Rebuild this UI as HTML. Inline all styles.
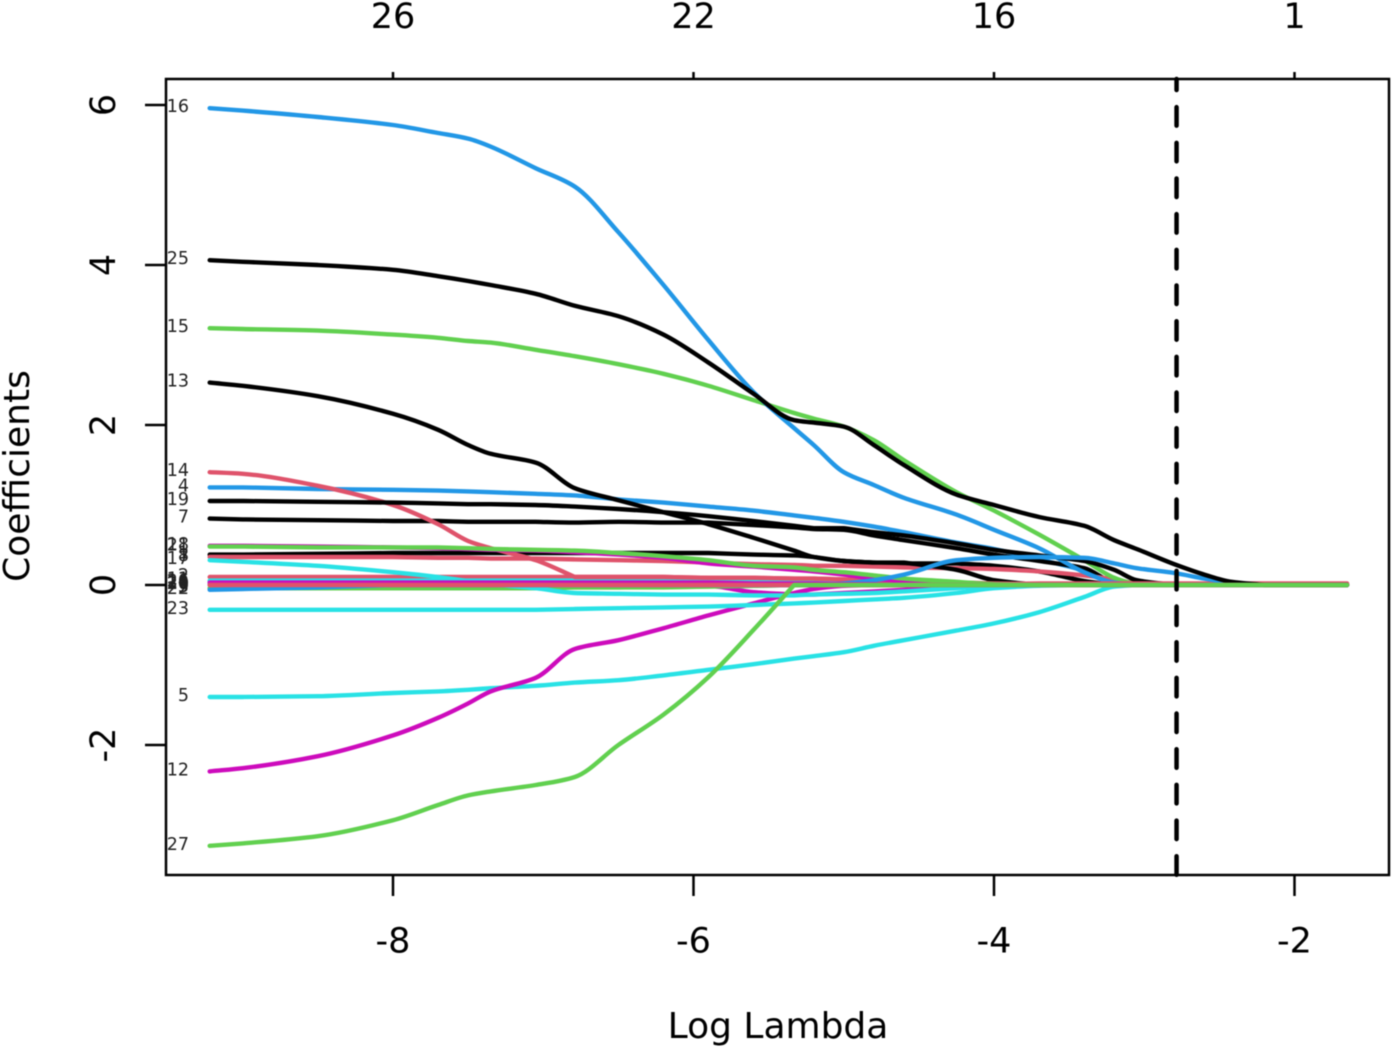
<!DOCTYPE html>
<html lang="en">
<head>
<meta charset="utf-8">
<title>Lasso coefficient paths</title>
<style>
html,body{margin:0;padding:0;background:#fff;}
svg{display:block;font-family:"DejaVu Sans",sans-serif;filter:blur(.45px);}
</style>
</head>
<body>
<svg id="chart" xmlns="http://www.w3.org/2000/svg" width="1395" height="1049" viewBox="0 0 1395 1049"></svg>
<script>
const logLambda = [-9.22,-9.0,-8.5,-8.0,-7.7,-7.5,-7.35,-7.05,-6.79,-6.5,-6.2,-5.9,-5.6,-5.33,-5.2,-5.0,-4.8,-4.6,-4.25,-4.0,-3.7,-3.4,-3.2,-3.05,-2.8,-2.6,-2.42,-2.2,-1.65];
const coef1  = [.38,.38,.39,.40,.40,.40,.40,.40,.40,.40,.40,.40,.38,.37,.35,.30,.28,.27,.27,.24,.17,.05,0,0,0,0,0,0,0];
const coef2  = [.10,.10,.10,.10,.10,.10,.10,.10,.10,.10,.10,.09,.09,.08,.08,.07,.06,.05,.03,.02,.01,0,0,0,0,0,0,0,0];
const coef3  = [-.04,-.04,-.04,-.04,-.04,-.04,-.04,-.04,-.03,-.03,-.03,-.02,-.01,0,0,0,0,0,0,0,0,0,0,0,0,0,0,0,0];
const coef4  = [1.22,1.22,1.20,1.19,1.18,1.17,1.16,1.14,1.12,1.07,1.03,.98,.93,.87,.84,.79,.73,.66,.53,.45,.32,.18,.04,0,0,0,0,0,0];
const coef5  = [-1.40,-1.40,-1.39,-1.35,-1.33,-1.31,-1.29,-1.26,-1.22,-1.19,-1.13,-1.06,-.99,-.92,-.89,-.84,-.76,-.69,-.57,-.48,-.34,-.15,-.02,0,0,0,0,0,0];
const coef6  = [.04,.04,.03,.03,.03,.02,.02,.01,.01,0,0,-.01,-.09,-.12,-.12,-.10,-.08,-.06,-.03,-.01,0,0,0,0,0,0,0,0,0];
const coef7  = [.83,.82,.81,.80,.80,.79,.79,.79,.78,.79,.78,.78,.75,.72,.70,.69,.62,.56,.46,.38,.30,.21,.03,0,0,0,0,0,0];
const coef8  = [.35,.35,.35,.35,.34,.34,.33,.33,.32,.31,.30,.28,.26,.25,.24,.24,.23,.22,.21,.20,.17,.12,.07,.02,0,0,0,0,0];
const coef9  = [-.04,-.04,-.04,-.04,-.04,-.04,-.04,-.04,-.03,-.03,-.02,-.02,-.01,0,0,0,0,0,0,0,0,0,0,0,0,0,0,0,0];
const coef10 = [.01,.01,.01,.01,.01,.01,.01,.01,.01,.01,.01,.01,.01,.01,.01,.01,0,0,0,0,0,0,0,0,0,0,0,0,0];
const coef11 = [.055,.055,.055,.055,.055,.055,.055,.055,.055,.055,.055,.05,.05,.04,.04,.03,.02,.01,.01,0,0,0,0,0,0,0,0,0,0];
const coef12 = [-2.33,-2.29,-2.14,-1.88,-1.66,-1.48,-1.33,-1.16,-.80,-.69,-.54,-.38,-.23,-.10,-.05,-.01,0,0,0,0,0,0,0,0,0,0,0,0,0];
const coef13 = [2.53,2.49,2.36,2.14,1.94,1.75,1.64,1.53,1.21,1.06,.91,.76,.59,.43,.35,.30,.28,.28,.19,.06,0,0,0,0,0,0,0,0,0];
const coef14 = [1.41,1.39,1.24,1.00,.76,.55,.46,.31,.10,.10,.10,.09,.09,.08,.08,.07,.06,.05,.03,.02,.01,0,0,0,0,0,0,0,0];
const coef15 = [3.21,3.20,3.18,3.13,3.09,3.05,3.03,2.94,2.86,2.76,2.64,2.49,2.31,2.15,2.08,1.98,1.81,1.56,1.16,.93,.63,.31,.09,0,0,0,0,0,0];
const coef16 = [5.96,5.93,5.85,5.75,5.65,5.58,5.48,5.21,4.98,4.41,3.75,3.06,2.41,1.96,1.75,1.41,1.25,1.09,.88,.69,.46,.16,.03,0,0,0,0,0,0];
const coef17 = [.31,.29,.24,.16,.10,.05,.01,-.04,-.10,-.11,-.12,-.12,-.13,-.13,-.12,-.11,-.10,-.08,-.04,-.01,0,0,0,0,0,0,0,0,0];
const coef18 = [.49,.49,.48,.47,.46,.45,.44,.43,.41,.38,.34,.27,.23,.19,.17,.13,.08,.05,.02,0,0,0,0,0,0,0,0,0,0];
const coef19 = [1.05,1.05,1.04,1.03,1.02,1.01,1.01,1.00,.98,.95,.91,.86,.80,.74,.71,.71,.66,.62,.52,.44,.37,.30,.19,.06,0,0,0,0,0];
const coef20 = [0,0,0,0,0,0,0,0,0,0,0,0,0,0,0,0,0,0,.01,.01,.02,.02,.02,.02,.02,.02,.02,.02,.02];
const coef21 = [.48,.48,.47,.47,.47,.46,.45,.44,.43,.40,.36,.31,.24,.22,.19,.16,.12,.08,.04,.01,0,0,0,0,0,0,0,0,0];
const coef22 = [-.06,-.05,-.03,0,0,0,0,0,0,0,0,0,0,0,0,.02,.06,.13,.31,.34,.35,.34,.27,.21,.15,.08,.03,0,0];
const coef23 = [-.31,-.31,-.31,-.31,-.31,-.31,-.31,-.31,-.30,-.29,-.28,-.27,-.25,-.23,-.22,-.20,-.18,-.16,-.10,-.04,-.01,0,0,0,0,0,0,0,0];
const coef24 = [.03,.03,.03,.03,.03,.03,.03,.03,.03,.03,.03,.03,.02,.02,.02,.01,.01,0,0,0,0,0,0,0,0,0,0,0,0];
const coef25 = [4.06,4.04,4.00,3.94,3.86,3.80,3.75,3.64,3.49,3.36,3.13,2.78,2.39,2.06,2.03,1.98,1.75,1.50,1.13,1.00,.85,.74,.56,.45,.26,.13,.04,0,0];
const coef26 = [0,0,0,0,0,0,0,0,0,0,0,0,0,0,0,0,0,0,0,0,0,0,0,0,0,0,0,0,0];
const coef27 = [-3.26,-3.23,-3.14,-2.94,-2.75,-2.63,-2.58,-2.50,-2.40,-2.00,-1.62,-1.15,-.56,0,0,0,0,0,0,0,0,0,0,0,0,0,0,0,0];

const seriesIds = [1,2,3,4,5,6,7,8,9,10,11,12,13,14,15,16,17,18,19,20,21,22,23,24,25,26,27];
const seriesValues = [coef1,coef2,coef3,coef4,coef5,coef6,coef7,coef8,coef9,coef10,coef11,coef12,coef13,coef14,coef15,coef16,coef17,coef18,coef19,coef20,coef21,coef22,coef23,coef24,coef25,coef26,coef27];
const palette = ["#000000","#DF536B","#61D04F","#2297E6","#28E2E5","#CD0BBC"];
const xTicks = [-8,-6,-4,-2];
const yTicks = [-2,0,2,4,6];
const topTickLabels = ["26","22","16","1"];
const selectedLogLambda = -2.785;

const svg = document.getElementById('chart');
const NS = 'http://www.w3.org/2000/svg';
const plot = {left:166,right:1389,top:79,bottom:875};
function xScale(v){ return 393 + (v + 8) * 150.25; }
function yScale(v){ return 585 - v * 80; }
function make(tag, attrs, text){
  const el = document.createElementNS(NS, tag);
  for (const k in attrs) el.setAttribute(k, attrs[k]);
  if (text !== undefined) el.textContent = text;
  svg.appendChild(el);
  return el;
}
// smooth path through the values; keeps a sharp kink where a path meets a flat run
function smoothPath(values){
  const xs = logLambda.map(xScale);
  const ys = values.map(yScale);
  const n = xs.length;
  const d = [];
  for (let i = 0; i < n - 1; i++) d.push((ys[i+1] - ys[i]) / (xs[i+1] - xs[i]));
  const m = [];
  for (let i = 0; i < n; i++){
    if (i === 0) m.push(d[0]);
    else if (i === n - 1) m.push(d[n-2]);
    else if (d[i-1] * d[i] <= 0) m.push(0);
    else m.push(2 * d[i-1] * d[i] / (d[i-1] + d[i]));
  }
  let out = 'M' + xs[0].toFixed(1) + ' ' + ys[0].toFixed(1);
  for (let i = 0; i < n - 1; i++){
    const h = xs[i+1] - xs[i];
    let m0 = m[i], m1 = m[i+1];
    if (d[i] === 0){ m0 = 0; m1 = 0; }
    else {
      if (i < n - 2 && d[i+1] === 0) m1 = d[i];
      if (i > 0 && d[i-1] === 0) m0 = d[i];
    }
    out += 'C' + (xs[i] + h/3).toFixed(1) + ' ' + (ys[i] + m0*h/3).toFixed(1) + ' ' +
           (xs[i+1] - h/3).toFixed(1) + ' ' + (ys[i+1] - m1*h/3).toFixed(1) + ' ' +
           xs[i+1].toFixed(1) + ' ' + ys[i+1].toFixed(1);
  }
  return out;
}

// series lines
seriesIds.forEach(function(id, i){
  const line = make('path', {d:smoothPath(seriesValues[i]), fill:'none', stroke:palette[(id - 1) % 6], 'stroke-width':4.4, 'stroke-linejoin':'round', 'stroke-linecap':'round'});
  
  
});

// series id labels at left end
seriesIds.forEach(function(id, i){
  const label = make('text', {x:189, y:yScale(seriesValues[i][0]) + 4, 'text-anchor':'end', 'font-size':17.5, fill:'#222'}, String(id));
  
  
});

// selected lambda dashed line
const cvLine = make('line', {x1:xScale(selectedLogLambda), x2:xScale(selectedLogLambda), y1:plot.top, y2:plot.bottom, stroke:'#000', 'stroke-width':4.5, 'stroke-dasharray':'18.5 17.17', 'stroke-dashoffset':7.5, 'stroke-linecap':'round'});



// plot frame
const frame = make('rect', {x:plot.left, y:plot.top, width:plot.right - plot.left, height:plot.bottom - plot.top, fill:'none', stroke:'#000', 'stroke-width':2.5});



// bottom and top x axis
xTicks.forEach(function(t, i){
  const x = xScale(t);
  const bt = make('line', {x1:x, x2:x, y1:plot.bottom, y2:896, stroke:'#000', 'stroke-width':2.5});
  
  
  const bl = make('text', {x:x, y:952.5, 'text-anchor':'middle', 'font-size':35, fill:'#000'}, String(t));
  
  
  const tt = make('line', {x1:x, x2:x, y1:plot.top, y2:72, stroke:'#000', 'stroke-width':2.5});
  
  
  const tl = make('text', {x:x, y:28, 'text-anchor':'middle', 'font-size':35, fill:'#000'}, topTickLabels[i]);
  
  
});

// y axis
yTicks.forEach(function(t){
  const y = yScale(t);
  const tk = make('line', {x1:145, x2:plot.left, y1:y, y2:y, stroke:'#000', 'stroke-width':2.5});
  
  
  const tl = make('text', {x:0, y:0, transform:'translate(115,' + y + ') rotate(-90)', 'text-anchor':'middle', 'font-size':35, fill:'#000'}, String(t));
  
  
});

const xTitle = make('text', {x:778, y:1038, 'text-anchor':'middle', 'font-size':36, fill:'#000'}, 'Log Lambda');


const yTitle = make('text', {x:0, y:0, transform:'translate(29,476) rotate(-90)', 'text-anchor':'middle', 'font-size':36, fill:'#000'}, 'Coefficients');


</script>
</body>
</html>
